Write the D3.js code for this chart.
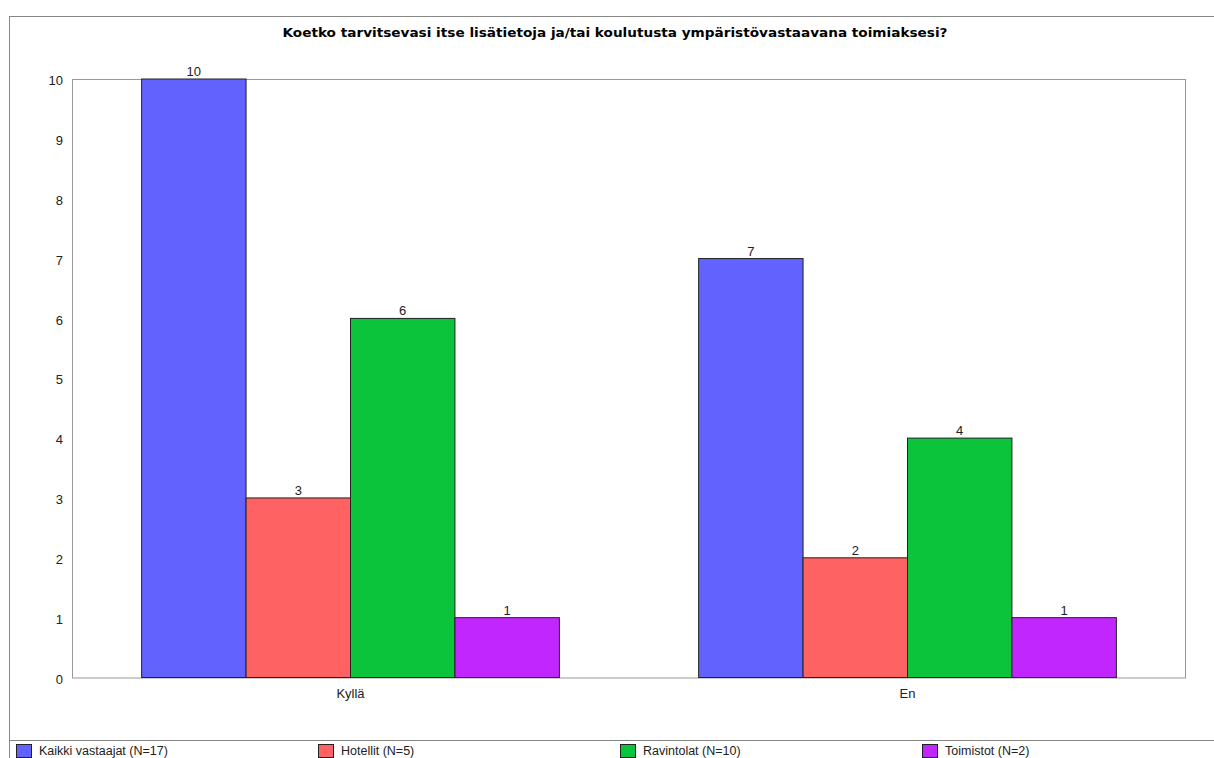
<!DOCTYPE html>
<html><head><meta charset="utf-8">
<script src="https://cdn.jsdelivr.net/npm/d3@7"></script>
<style>body{margin:0;background:#fff}svg{display:block}</style>
</head><body><svg id="c" width="1214" height="758"></svg>
<script>
const title = "Koetko tarvitsevasi itse lisätietoja ja/tai koulutusta ympäristövastaavana toimiaksesi?";
const categories = ["Kyllä", "En"];
const seriesNames = ["Kaikki vastaajat (N=17)", "Hotellit (N=5)", "Ravintolat (N=10)", "Toimistot (N=2)"];
const kaikki = [10, 7];
const hotellit = [3, 2];
const ravintolat = [6, 4];
const toimistot = [1, 1];
const yTicks = [0,1,2,3,4,5,6,7,8,9,10];
const colors = ["#6262FF", "#FF6262", "#0CC43C", "#C226FF"];

const seriesValues = [kaikki, hotellit, ravintolat, toimistot];
const svg = d3.select("#c");
const font = "'Liberation Sans', Arial, sans-serif";

// outer frame
svg.append("rect").attr("x",9.5).attr("y",16.5).attr("width",1214).attr("height",760)
  .attr("fill","#fff").attr("stroke","#888");
svg.append("line").attr("x1",9).attr("x2",1214).attr("y1",740.5).attr("y2",740.5).attr("stroke","#888");

const L=72, R=1186, T=79, B=677.5;
const x0 = d3.scaleBand().domain(categories).range([L,R]).paddingInner(0.25).paddingOuter(0.125);
const x1 = d3.scaleBand().domain(d3.range(seriesNames.length)).range([0,x0.bandwidth()]);
const y = d3.scaleLinear().domain([0,10]).range([B,T]);

// plot border
svg.append("rect").attr("x",L+0.5).attr("y",T+0.5).attr("width",R-L-1).attr("height",B-T)
  .attr("fill","#fff").attr("stroke","#999");

// y axis ticks labels
const yAxis = d3.axisLeft(y).tickValues(yTicks).tickSize(0).tickPadding(0).tickFormat(d3.format("d"));
const ga = svg.append("g").attr("transform",`translate(${L-9},1.5)`).call(yAxis);
ga.select(".domain").remove();
ga.selectAll("text").attr("font-family",font).attr("font-size",13).attr("fill","#222");

// x axis labels
const xAxis = d3.axisBottom(x0).tickSize(0).tickPadding(0);
const gx = svg.append("g").attr("transform",`translate(0,${B+11})`).call(xAxis);
gx.select(".domain").remove();
gx.selectAll("text").attr("font-family",font).attr("font-size",13).attr("fill","#222");

// bars
categories.forEach((c,ci)=>{
  seriesValues.forEach((vals,si)=>{
    const v = vals[ci];
    const bx = x0(c)+x1(si);
    svg.append("rect").attr("x",bx).attr("y",y(v)).attr("width",x1.bandwidth()).attr("height",y(0)-y(v))
      .attr("fill",colors[si]).attr("stroke","#222").attr("stroke-width",1);
    svg.append("text").attr("x",bx+x1.bandwidth()/2).attr("y",y(v)-3).attr("text-anchor","middle")
      .attr("font-family",font).attr("font-size",13).attr("fill","#222").text(v);
  });
});

// title
svg.append("text").attr("x",615).attr("y",37).attr("text-anchor","middle")
  .attr("font-family","'DejaVu Sans', Verdana, sans-serif").attr("font-size",13).attr("font-weight","bold").attr("fill","#000")
  .attr("textLength",665).attr("lengthAdjust","spacingAndGlyphs").text(title);

// legend
const legX = d3.scalePoint().domain(d3.range(seriesNames.length)).range([16,922]);
seriesNames.forEach((n,i)=>{
  const lx = legX(i);
  svg.append("rect").attr("x",lx+0.5).attr("y",744.5).attr("width",15).attr("height",13)
    .attr("fill",colors[i]).attr("stroke","#222");
  svg.append("text").attr("x",lx+23).attr("y",755).attr("font-family",font).attr("font-size",12.5)
    .attr("fill","#222").text(n);
});
</script></body></html>
